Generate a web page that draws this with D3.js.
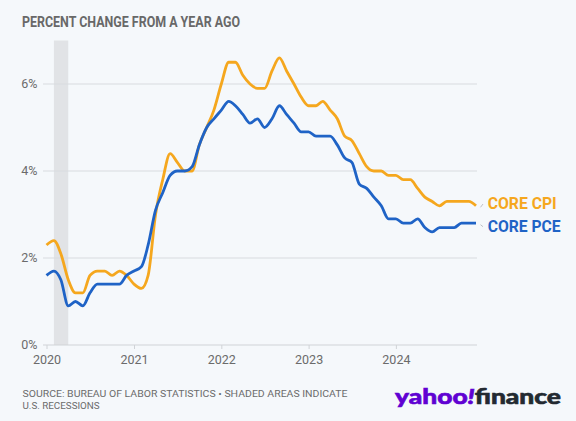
<!DOCTYPE html>
<html>
<head>
<meta charset="utf-8">
<script src="https://cdn.jsdelivr.net/npm/d3@7"></script>
<style>
html,body{margin:0;padding:0;background:#f5f8fb;}
svg{display:block;}
</style>
</head>
<body>
<svg id="chart" width="576" height="421"></svg>
<script>
// ---- data ----
const months = d3.range(60).map(m => new Date(Date.UTC(2020, m, 1)));
const coreCPI = [2.3,2.4,2.1,1.5,1.2,1.2,1.6,1.7,1.7,1.6,1.7,1.6,
                 1.4,1.3,1.6,3.0,3.8,4.4,4.2,4.0,4.0,4.6,5.0,5.4,
                 6.0,6.5,6.5,6.2,6.0,5.9,5.9,6.3,6.6,6.3,6.0,5.7,
                 5.5,5.5,5.6,5.4,5.2,4.8,4.7,4.4,4.1,4.0,4.0,3.9,
                 3.9,3.8,3.8,3.6,3.4,3.3,3.2,3.3,3.3,3.3,3.3,3.2];
const corePCE = [1.6,1.7,1.5,0.9,1.0,0.9,1.2,1.4,1.4,1.4,1.4,1.6,
                 1.7,1.8,2.3,3.1,3.5,3.9,4.0,4.0,4.1,4.6,5.0,5.2,
                 5.4,5.6,5.5,5.3,5.1,5.2,5.0,5.2,5.5,5.3,5.1,4.9,
                 4.9,4.8,4.8,4.8,4.6,4.3,4.2,3.7,3.6,3.4,3.2,2.9,
                 2.9,2.8,2.8,2.9,2.7,2.6,2.7,2.7,2.7,2.8,2.8,2.8];
const seriesNames = ["CORE CPI", "CORE PCE"];
const yTicks = [0, 2, 4, 6];
const xTickYears = [2020, 2021, 2022, 2023, 2024];
const recession = [new Date(Date.UTC(2020, 1, 1)), new Date(Date.UTC(2020, 3, 1))];

const colors = {cpi: "#f5a71e", pce: "#1f63c6"};

const svg = d3.select("#chart");
const x = d3.scaleUtc().domain([months[0], months[59]]).range([46.5, 476]);
const y = d3.scaleLinear().domain([0, 7]).range([345, 40.5]);

// title
svg.append("text").attr("x", 22).attr("y", 27)
  .attr("font-family", "Roboto, sans-serif").attr("font-weight", 700)
  .attr("font-size", 15.5).attr("fill", "#686868")
  .attr("textLength", 218).attr("lengthAdjust", "spacingAndGlyphs")
  .text("PERCENT CHANGE FROM A YEAR AGO");

// recession shading
svg.append("rect")
  .attr("x", x(recession[0])).attr("width", x(recession[1]) - x(recession[0]))
  .attr("y", y(7)).attr("height", y(0) - y(7))
  .attr("fill", "#e1e3e6");

// gridlines
svg.append("g").selectAll("line").data(yTicks).join("line")
  .attr("x1", 43).attr("x2", 477)
  .attr("y1", d => y(d)).attr("y2", d => y(d))
  .attr("stroke", d => d === 0 ? "#d0d3d7" : "#d8dbdf").attr("stroke-width", 1);

// y labels
svg.append("g").selectAll("text").data(yTicks).join("text")
  .attr("x", 37.5).attr("y", d => y(d)).attr("dy", "0.35em")
  .attr("text-anchor", "end")
  .attr("font-family", "Roboto, sans-serif").attr("font-size", 12.5)
  .attr("fill", "#6b6b6b")
  .text(d => d + "%");

// x axis ticks
const xAxis = d3.axisBottom(x)
  .tickValues(xTickYears.map(yr => new Date(Date.UTC(yr, 0, 1))))
  .tickFormat(d3.utcFormat("%Y"))
  .tickSize(4).tickPadding(6);
const gx = svg.append("g").attr("transform", `translate(0,${y(0)})`).call(xAxis);
gx.select(".domain").remove();
gx.selectAll(".tick line").attr("stroke", "#d0d3d7");
gx.selectAll(".tick text").attr("font-family", "Roboto, sans-serif")
  .attr("font-size", 12.5).attr("fill", "#6b6b6b");

// lines
const line = d3.line().x((d, i) => x(months[i])).y(d => y(d)).curve(d3.curveMonotoneX);
svg.append("path").datum(coreCPI).attr("d", line)
  .attr("fill", "none").attr("stroke", colors.cpi).attr("stroke-width", 2.8)
  .attr("stroke-linejoin", "round");
svg.append("path").datum(corePCE).attr("d", line)
  .attr("fill", "none").attr("stroke", colors.pce).attr("stroke-width", 2.8)
  .attr("stroke-linejoin", "round");

// end labels
const ends = [
  {name: seriesNames[0], v: coreCPI[59], color: colors.cpi, ly: 209, tl: 69},
  {name: seriesNames[1], v: corePCE[59], color: colors.pce, ly: 231.7, tl: 73}
];
ends.forEach(e => {
  const yy = y(e.v);
  svg.append("line").attr("x1", x(months[59]) + 4.5).attr("x2", x(months[59]) + 7)
    .attr("y1", yy + 1.5).attr("y2", e.ly - 5)
    .attr("stroke", "#b0b3b7").attr("stroke-width", 0.8);
  svg.append("text").attr("x", 487.7).attr("y", e.ly)
    .attr("font-family", "Roboto, sans-serif").attr("font-weight", 700)
    .attr("font-size", 16.3).attr("fill", e.color)
    .attr("textLength", e.tl).attr("lengthAdjust", "spacingAndGlyphs")
    .text(e.name);
});

// source
const src = svg.append("text").attr("font-family", "Roboto, sans-serif")
  .attr("font-size", 9.8).attr("fill", "#6b6b6b");
src.append("tspan").attr("x", 22.5).attr("y", 396.7)
  .attr("textLength", 325).attr("lengthAdjust", "spacingAndGlyphs")
  .text("SOURCE: BUREAU OF LABOR STATISTICS \u2022 SHADED AREAS INDICATE");
src.append("tspan").attr("x", 22.5).attr("y", 408.5).text("U.S. RECESSIONS");

// logo
const logo = svg.append("text").attr("x", 395).attr("y", 403.5)
  .attr("font-family", "Lato, 'Open Sans', sans-serif").attr("font-weight", 900)
  .attr("font-size", 21).attr("textLength", 166).attr("lengthAdjust", "spacingAndGlyphs")
  .attr("stroke-width", 0.6);
logo.append("tspan").attr("fill", "#6001d2").attr("stroke", "#6001d2").text("yahoo");
logo.append("tspan").attr("fill", "#6001d2").attr("stroke", "#6001d2").attr("font-style", "italic").text("!");
logo.append("tspan").attr("fill", "#232a31").attr("stroke", "#232a31").text("finance");
</script>
</body>
</html>
